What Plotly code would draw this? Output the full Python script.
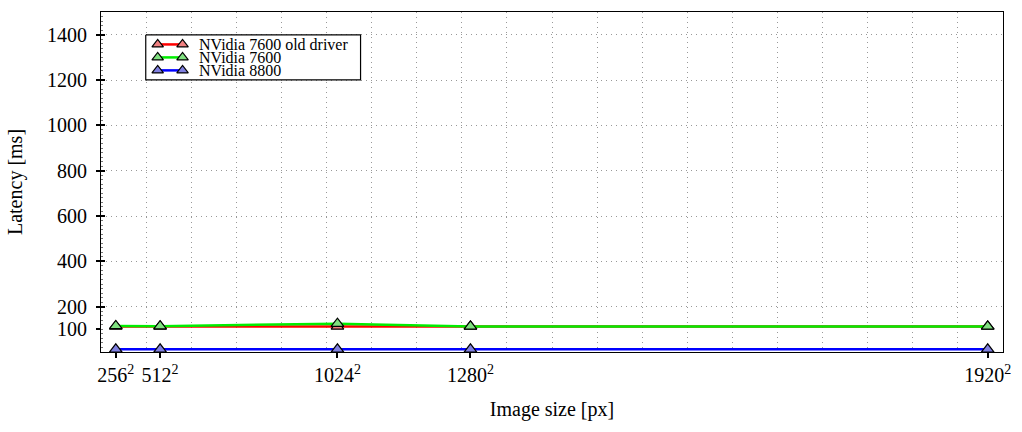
import plotly.graph_objects as go

# Data
sizes_px = [65536, 262144, 1048576, 1638400, 3932160]
size_labels = ["256<sup>2</sup>", "512<sup>2</sup>", "1024<sup>2</sup>", "1280<sup>2</sup>", "1920<sup>2</sup>"]
old_driver_7600 = [113, 113, 113, 113, 113]
nvidia_7600 = [115, 114, 125, 113, 113]
nvidia_8800 = [12, 12, 12, 12, 12]
series_names = ["NVidia 7600 old driver", "NVidia 7600", "NVidia 8800"]
y_tickvals = [100, 200, 400, 600, 800, 1000, 1200, 1400]
y_gridvals = [200, 400, 600, 800, 1000, 1200, 1400]

FONT = "Liberation Serif, DejaVu Serif, serif"

line_colors = ["#ff0000", "#00ee00", "#0000ff"]
marker_colors = ["#f08080", "#80e080", "#8080e0"]
series_vals = [old_driver_7600, nvidia_7600, nvidia_8800]

fig = go.Figure()
for name, vals, lc, mc in zip(series_names, series_vals, line_colors, marker_colors):
    fig.add_trace(go.Scatter(
        x=sizes_px, y=vals, name=name, mode="lines+markers",
        line=dict(color=lc, width=2.5),
        marker=dict(symbol="triangle-up", size=11, color=mc,
                    line=dict(color="black", width=1.2)),
        cliponaxis=False, showlegend=False,
    ))

# Overlay axes for the grid (x2/y2) and a pixel-like frame for the legend (x3/y3)
fig.add_trace(go.Scatter(x=[0], y=[0], xaxis="x2", yaxis="y2", mode="markers",
                         marker=dict(opacity=0), showlegend=False, hoverinfo="skip"))

# Legend box (white, covers the grid)
BX0, BX1, BY0, BY1 = 146, 362, 34, 79
fig.add_trace(go.Scatter(
    x=[BX0, BX1, BX1, BX0, BX0], y=[BY0, BY0, BY1, BY1, BY0], xaxis="x3", yaxis="y3",
    mode="lines", fill="toself", fillcolor="white", line=dict(color="black", width=1.2),
    showlegend=False, hoverinfo="skip"))

# Legend entries
LX0, LX1 = 158, 183
row_y = [44, 57, 70]
for name, lc, mc, ry in zip(series_names, line_colors, marker_colors, row_y):
    fig.add_trace(go.Scatter(
        x=[LX0, LX1], y=[ry - 0.5, ry - 0.5], xaxis="x3", yaxis="y3", mode="lines+markers",
        line=dict(color=lc, width=2.5),
        marker=dict(symbol="triangle-up", size=10, color=mc, line=dict(color="black", width=1.2)),
        showlegend=False, hoverinfo="skip", cliponaxis=False))
    fig.add_annotation(x=198, y=ry, xref="x3", yref="y3", text=name, showarrow=False,
                       xanchor="left", yanchor="middle", font=dict(family=FONT, size=16, color="black"))

fig.update_layout(
    width=1022, height=432,
    margin=dict(l=101, r=14, t=11, b=80),
    paper_bgcolor="white", plot_bgcolor="white",
    font=dict(family=FONT, size=20, color="black"),
    showlegend=False,
    xaxis=dict(range=[0, 4.0e6], tickvals=sizes_px, ticktext=size_labels,
               tickangle=0, showgrid=False, zeroline=False,
               showline=True, linecolor="black", linewidth=1.2, mirror=True,
               ticks="outside", ticklen=5, tickcolor="black", tickwidth=1.5,
               tickfont=dict(family=FONT, size=20),
               title=dict(text="Image size [px]", font=dict(family=FONT, size=20), standoff=16)),
    yaxis=dict(range=[0, 1500], tickvals=y_tickvals, showgrid=False, zeroline=False,
               showline=True, linecolor="black", linewidth=1.2, mirror=True,
               ticks="outside", ticklen=4, tickcolor="black", tickwidth=1.5,
               tickfont=dict(family=FONT, size=20), ticklabelstandoff=5,
               title=dict(text="Latency [ms]", font=dict(family=FONT, size=20), standoff=18)),
    xaxis2=dict(range=[0, 4.0e6], overlaying="x", dtick=200000, tick0=0,
                showgrid=True, gridcolor="#999999", griddash="1px,4px", gridwidth=1,
                showticklabels=False, ticks="", zeroline=False, showline=False,
                layer="below traces"),
    yaxis2=dict(range=[0, 1500], overlaying="y", tickvals=y_gridvals,
                showgrid=True, gridcolor="#999999", griddash="1px,4px", gridwidth=1,
                showticklabels=False, ticks="inside", ticklen=4, tickcolor="black",
                tickwidth=1.5, zeroline=False, showline=False, layer="below traces",
                minor=dict(ticks="inside", ticklen=2, dtick=20, tickcolor="#777777", tickwidth=0.5)),
    xaxis3=dict(range=[101, 1008], overlaying="x", visible=False, fixedrange=True),
    yaxis3=dict(range=[351.7, 11], overlaying="y", visible=False, fixedrange=True),
)

fig.write_html("out.html")
